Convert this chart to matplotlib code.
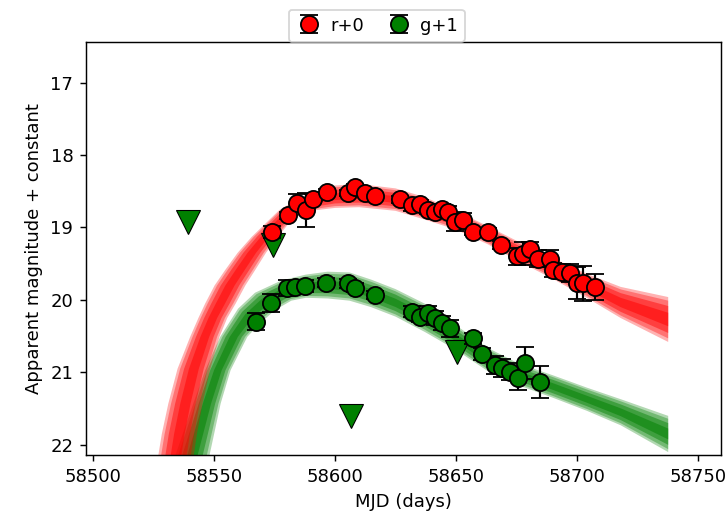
import numpy as np
import matplotlib.pyplot as plt

# r band (offset +0): MJD, magnitude, error
r_mjd = [58573.9, 58580.7, 58584.2, 58588.1, 58591.1, 58596.6, 58605.5, 58608.3,
         58612.4, 58616.5, 58626.8, 58631.7, 58635.1, 58638.6, 58641.3, 58644.1,
         58646.8, 58649.6, 58653.0, 58657.1, 58663.3, 58668.5, 58675.0, 58677.8,
         58680.4, 58683.9, 58688.8, 58690.1, 58693.6, 58697.0, 58699.8, 58702.5,
         58707.4]
r_mag = [19.06, 18.83, 18.66, 18.76, 18.60, 18.51, 18.52, 18.44,
         18.53, 18.57, 18.61, 18.69, 18.67, 18.76, 18.78, 18.74,
         18.78, 18.92, 18.90, 19.06, 19.06, 19.24, 19.40, 19.36,
         19.30, 19.43, 19.43, 19.59, 19.61, 19.63, 19.77, 19.77,
         19.82]
r_err = [0.08, 0.05, 0.12, 0.23, 0.06, 0.04, 0.04, 0.04,
         0.04, 0.04, 0.05, 0.08, 0.05, 0.06, 0.06, 0.06,
         0.08, 0.13, 0.10, 0.05, 0.05, 0.06, 0.12, 0.16,
         0.10, 0.12, 0.12, 0.10, 0.10, 0.12, 0.22, 0.24,
         0.18]

# g band (offset +1)
g_mjd = [58567.4, 58573.6, 58580.1, 58583.5, 58587.6, 58596.3, 58605.5, 58608.3,
         58616.5, 58631.7, 58635.1, 58638.6, 58641.3, 58644.1, 58647.5, 58657.1,
         58660.6, 58666.1, 58668.8, 58672.3, 58675.7, 58678.5, 58684.6]
g_mag = [20.30, 20.04, 19.84, 19.82, 19.81, 19.76, 19.77, 19.83,
         19.93, 20.16, 20.23, 20.18, 20.25, 20.32, 20.39, 20.53,
         20.75, 20.90, 20.94, 20.99, 21.08, 20.87, 21.13]
g_err = [0.12, 0.12, 0.11, 0.08, 0.08, 0.06, 0.06, 0.06,
         0.06, 0.08, 0.08, 0.10, 0.10, 0.10, 0.12, 0.08,
         0.08, 0.12, 0.12, 0.12, 0.16, 0.22, 0.22]

# g band upper limits
g_lim_mjd = [58539.3, 58574.5, 58606.6, 58650.3]
g_lim_mag = [18.93, 19.24, 21.60, 20.72]

# model light curve envelopes: edge A (bright side) and edge B (faint side),
# read as matching pairs across the band
r_env_a_mjd = [58526.3, 58528.5, 58531.2, 58535.0, 58540.2, 58543.6, 58546.4, 58550.3,
               58554.6, 58559.8, 58565.6, 58577.0, 58583.5, 58590, 58600, 58610, 58625,
               58637, 58650, 58663, 58676, 58690, 58704, 58718, 58737.6]
r_env_a_mag = [22.30, 21.85, 21.43, 20.95, 20.51, 20.25, 20.05, 19.80,
               19.59, 19.35, 19.13, 18.76, 18.63, 18.53, 18.42, 18.40, 18.46,
               18.58, 18.77, 18.98, 19.20, 19.42, 19.64, 19.82, 19.96]
r_env_b_mjd = [58541.0, 58543.0, 58545.3, 58548.5, 58552.3, 58555.5, 58559.0, 58563.0,
               58567.0, 58571.5, 58576.4, 58582.0, 58586.0, 58590, 58600, 58610, 58625,
               58637, 58650, 58663, 58676, 58690, 58704, 58718, 58737.6]
r_env_b_mag = [22.30, 21.85, 21.43, 20.95, 20.51, 20.25, 20.05, 19.80,
               19.59, 19.35, 19.13, 18.90, 18.82, 18.77, 18.73, 18.72, 18.77,
               18.89, 19.03, 19.23, 19.47, 19.71, 19.97, 20.25, 20.58]

g_env_a_mjd = [58532.5, 58541.5, 58546.4, 58552.6, 58560.0, 58567.0, 58578.0, 58588, 58597,
               58606, 58615, 58625, 58637, 58650, 58663, 58676, 58690, 58704, 58718, 58737.6]
g_env_a_mag = [22.30, 21.43, 20.97, 20.51, 20.12, 19.90, 19.73, 19.65, 19.61,
               19.62, 19.72, 19.85, 20.05, 20.35, 20.66, 20.88, 21.04, 21.21, 21.37, 21.60]
g_env_b_mjd = [58547.2, 58552.8, 58556.9, 58563.8, 58568.2, 58575.2, 58582.0, 58588, 58597,
               58606, 58615, 58625, 58637, 58650, 58663, 58676, 58690, 58704, 58718, 58737.6]
g_env_b_mag = [22.30, 21.43, 20.97, 20.51, 20.35, 20.14, 20.01, 19.97, 19.98,
               20.01, 20.10, 20.23, 20.44, 20.69, 20.98, 21.18, 21.35, 21.53, 21.73, 22.10]


def banda(ax, a_x, a_y, b_x, b_y, color):
    a_x, a_y, b_x, b_y = map(np.asarray, (a_x, a_y, b_x, b_y))
    # layers: denser toward the middle of the sample envelope
    for f1, f2, alpha in [(0.0, 1.0, 0.3), (0.08, 0.92, 0.35), (0.2, 0.8, 0.45), (0.35, 0.65, 0.5)]:
        x1 = a_x + f1 * (b_x - a_x)
        y1 = a_y + f1 * (b_y - a_y)
        x2 = a_x + f2 * (b_x - a_x)
        y2 = a_y + f2 * (b_y - a_y)
        ax.fill(np.concatenate([x1, x2[::-1]]), np.concatenate([y1, y2[::-1]]),
                color=color, alpha=alpha, lw=0, zorder=1)


fig = plt.figure(figsize=(728 / 130, 517 / 130), dpi=130)
ax = fig.add_axes([86 / 728, 62 / 517, 635 / 728, 413 / 517])

banda(ax, g_env_a_mjd, g_env_a_mag, g_env_b_mjd, g_env_b_mag, "green")
banda(ax, r_env_a_mjd, r_env_a_mag, r_env_b_mjd, r_env_b_mag, "red")

ax.plot(g_lim_mjd, g_lim_mag, "v", color="green", mec="black", mew=0.6, ms=13, zorder=3)

ax.errorbar(r_mjd, r_mag, yerr=r_err, fmt="o", mfc="red", mec="black", mew=1, ms=9.5,
            ecolor="black", elinewidth=1.2, capsize=5, capthick=1.5, label="r+0", zorder=4)
ax.errorbar(g_mjd, g_mag, yerr=g_err, fmt="o", mfc="green", mec="black", mew=1, ms=9.5,
            ecolor="black", elinewidth=1.2, capsize=5, capthick=1.5, label="g+1", zorder=4)

ax.set_xlim(58497.2, 58759.4)
ax.set_ylim(22.14, 16.44)
ax.set_xlabel("MJD (days)")
ax.set_ylabel("Apparent magnitude + constant")

ax.legend(loc="lower center", bbox_to_anchor=(0.458, 1.0), ncol=2, borderaxespad=0,
          handlelength=1.5, handletextpad=0.4, columnspacing=1.2)

fig.savefig("out.png", dpi=130)
